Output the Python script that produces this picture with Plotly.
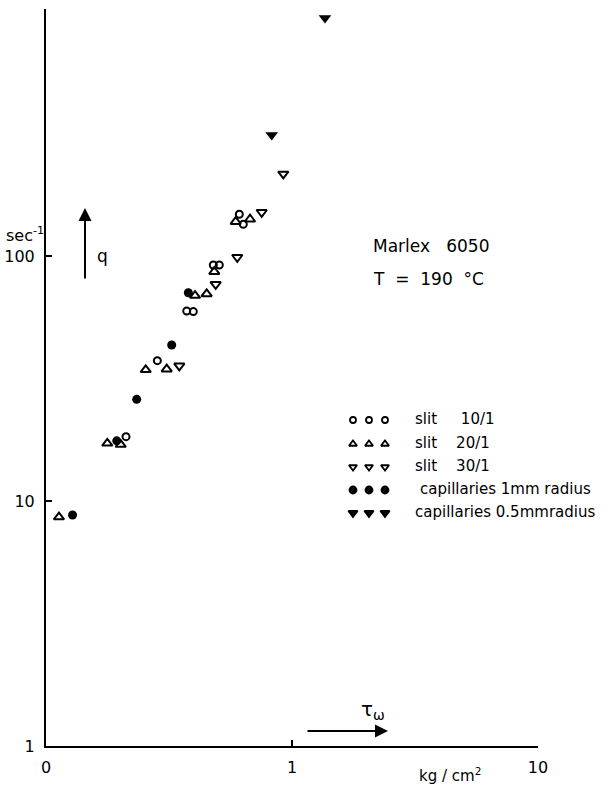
import plotly.graph_objects as go

# ---- data (tau_w in kg/cm^2, q in 1/sec) ----
slit10_x = [0.2115, 0.2835, 0.3733, 0.3971, 0.4787, 0.5064, 0.6106, 0.6339]
slit10_y = [18.3, 37.4, 59.6, 59.3, 91.9, 91.9, 148.0, 134.7]

slit20_x = [0.1129, 0.1775, 0.2013, 0.2543, 0.3095, 0.4035, 0.4500, 0.4832, 0.5903, 0.6750]
slit20_y = [8.60, 17.2, 17.0, 34.3, 34.5, 68.9, 70.0, 86.3, 138.0, 141.2]

slit30_x = [0.3483, 0.4895, 0.5992, 0.7532, 0.9218]
slit30_y = [35.6, 76.6, 98.8, 150.8, 216.1]

cap1_x = [0.1282, 0.1939, 0.2337, 0.3243, 0.3789]
cap1_y = [8.77, 17.6, 26.0, 43.3, 70.8]

cap05_x = [0.8270, 1.3616]
cap05_y = [311.8, 936.4]

x_tickvals = [0.1, 1, 10]
x_ticktext = ["0", "1", "10"]
y_tickvals = [1, 10, 100]
y_ticktext = ["1", "10", "100"]

legend_labels = ["slit     10/1", "slit    20/1", "slit    30/1", "capillaries 1mm radius", "capillaries 0.5mmradius"]
legend_markers = ["circle-open", "triangle-up-open", "triangle-down-open", "circle", "triangle-down"]
legend_sizes = [6, 7, 7, 7, 8]

FONT = "DejaVu Sans"
W, H = 610, 787
L, R, T, B = 46, 72, 9, 41
PW, PH = W - L - R, H - T - B


def px(x):
    return (x - L) / PW


def py(y):
    return (H - B - y) / PH


fig = go.Figure()
fig.add_trace(go.Scatter(x=slit10_x, y=slit10_y, mode="markers",
                         marker=dict(symbol="circle-open", size=7, color="black", line=dict(width=2))))
fig.add_trace(go.Scatter(x=slit20_x, y=slit20_y, mode="markers",
                         marker=dict(symbol="triangle-up-open", size=9, color="black", line=dict(width=2))))
fig.add_trace(go.Scatter(x=slit30_x, y=slit30_y, mode="markers",
                         marker=dict(symbol="triangle-down-open", size=9, color="black", line=dict(width=2))))
fig.add_trace(go.Scatter(x=cap1_x, y=cap1_y, mode="markers",
                         marker=dict(symbol="circle", size=9, color="black")))
fig.add_trace(go.Scatter(x=cap05_x, y=cap05_y, mode="markers",
                         marker=dict(symbol="triangle-down", size=11, color="black")))

# legend key symbols on a pixel-space overlay axis
rows_y = [420, 444, 467, 490, 513]
key_x = [353, 369, 385]
for i in range(5):
    fig.add_trace(go.Scatter(x=key_x, y=[rows_y[i]] * 3, mode="markers", xaxis="x2", yaxis="y2",
                             marker=dict(symbol=legend_markers[i], size=legend_sizes[i], color="black",
                                         line=dict(width=1.8, color="black"))))

ann = []
ann.append(dict(x=px(371), y=py(246), text="Marlex   6050", xanchor="left", yanchor="middle",
                showarrow=False, font=dict(size=17, family=FONT, color="black")))
ann.append(dict(x=px(371), y=py(279), text="T  =  190  \u00b0C", xanchor="left", yanchor="middle",
                showarrow=False, font=dict(size=17, family=FONT, color="black")))
for i, lab in enumerate(legend_labels):
    x0 = 418 if i == 3 else 413
    ann.append(dict(x=px(x0), y=py(rows_y[i] - 1), text=lab, xanchor="left", yanchor="middle",
                    showarrow=False, font=dict(size=15, family=FONT, color="black")))
ann.append(dict(x=px(4), y=py(234), text="sec<sup>-1</sup>", xanchor="left", yanchor="middle",
                showarrow=False, font=dict(size=16, family=FONT, color="black")))
ann.append(dict(x=px(417), y=py(775), text="kg / cm<sup>2</sup>", xanchor="left", yanchor="middle",
                showarrow=False, font=dict(size=15, family=FONT, color="black")))
ann.append(dict(x=px(95), y=py(256), text="q", xanchor="left", yanchor="middle",
                showarrow=False, font=dict(size=17, family=FONT, color="black")))
ann.append(dict(x=px(373), y=py(710), text="\u03c4<sub>\u03c9</sub>", xanchor="center", yanchor="middle",
                showarrow=False, font=dict(size=20, family=FONT, color="black")))
ann.append(dict(x=px(85), y=py(208), ax=0, ay=72, axref="pixel", ayref="pixel",
                text="", showarrow=True, arrowhead=2, arrowsize=1.3,
                arrowwidth=2, arrowcolor="black"))
ann.append(dict(x=px(388), y=py(731), ax=-82, ay=0, axref="pixel", ayref="pixel",
                text="", showarrow=True, arrowhead=2, arrowsize=1.3,
                arrowwidth=2, arrowcolor="black"))
for a in ann:
    a.setdefault("xref", "paper")
    a.setdefault("yref", "paper")

fig.update_layout(
    width=W, height=H,
    margin=dict(l=L, r=R, t=T, b=B, autoexpand=False),
    paper_bgcolor="white", plot_bgcolor="white",
    showlegend=False,
    annotations=ann,
    font=dict(family=FONT, size=15, color="black"),
    xaxis=dict(type="log", range=[-1, 1], showgrid=False, zeroline=False, automargin=False,
               showline=True, linecolor="black", linewidth=2,
               ticks="inside", ticklen=6, tickwidth=1.5, tickcolor="black",
               tickvals=x_tickvals, ticktext=x_ticktext, ticklabelstandoff=6,
               tickfont=dict(size=16, family=FONT)),
    yaxis=dict(type="log", range=[0, 3.008], showgrid=False, zeroline=False, automargin=False,
               showline=True, linecolor="black", linewidth=2,
               ticks="inside", ticklen=6, tickwidth=1.5, tickcolor="black",
               tickvals=y_tickvals, ticktext=y_ticktext, ticklabelstandoff=6,
               tickfont=dict(size=16, family=FONT)),
    xaxis2=dict(overlaying="x", range=[L, W - R], visible=False, fixedrange=True),
    yaxis2=dict(overlaying="y", range=[H - B, T], visible=False, fixedrange=True),
)

fig.write_html("out.html")
